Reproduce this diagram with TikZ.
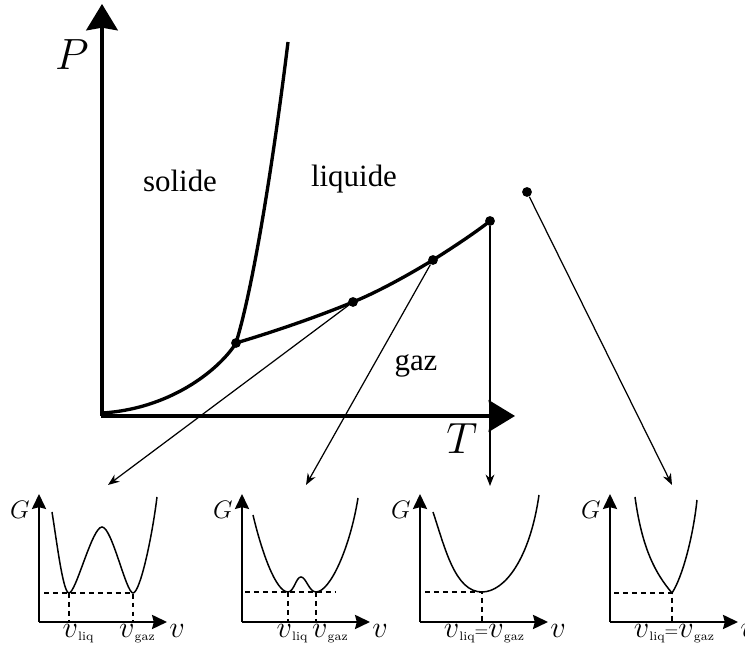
\documentclass[tikz,border=0pt]{standalone}
\usepackage{fontspec}
\newfontfamily\phasefont{Liberation Serif}
\usetikzlibrary{arrows.meta}
\newcommand{\vsub}[1]{$v$\raisebox{-1.5pt}{\fontsize{7}{8}\selectfont #1}}
\newcommand{\veq}{\raisebox{0.6pt}{\fontsize{10}{10}\selectfont$=$}}

\begin{document}
\begin{tikzpicture}[x=0.2mm, y=0.2mm,
  axis/.style={line width=1.8pt, -{Stealth[length=15pt, width=18pt, inset=1.5pt]}},
  phaseline/.style={line width=1.9pt},
  link/.style={line width=0.7pt, -{Stealth[length=6.5pt, width=5pt]}},
  smallaxis/.style={line width=1.3pt, -{Stealth[length=8.5pt, width=8pt, inset=1pt]}},
  gcurve/.style={line width=0.85pt},
  guide/.style={line width=0.7pt, dash pattern=on 2.8pt off 2.3pt},
  dot/.style={circle, fill, inner sep=0pt, minimum size=5.6pt},
  phase/.style={font=\phasefont\fontsize{17.6}{20}\selectfont, inner sep=0pt, anchor=base},
  big/.style={font=\fontsize{28}{30}\selectfont, inner sep=0pt},
  lbl/.style={font=\fontsize{17.6}{18}\selectfont, inner sep=0pt, anchor=base},
  gl/.style={font=\fontsize{13.5}{14}\selectfont, inner sep=0pt}]

  \useasboundingbox (0,0) rectangle (745,648);

  % P-T diagram
  \coordinate (O) at (102,232);
  \draw[axis] (O) -- (102,644);
  \draw[axis] (101,232) -- (515,232);
  \node[big] (P) at (72,593) {$P$};
  \node[big] (T) at (462,209) {$T$};

  \node[dot] (tp) at (236,305) {};
  \node[dot] (A) at (353,346) {};
  \node[dot] (B) at (433,388) {};
  \node[dot] (C) at (490,427) {};
  \node[dot] (D) at (527,456) {};
  \coordinate (s0) at (103,235);
  \coordinate (f1) at (288,606);

  \draw[phaseline] (s0) .. controls (175,240) and (222,282) .. (tp.center);
  \draw[phaseline] (tp.center) .. controls (258,377) and (280,540) .. (f1);
  \draw[phaseline] (tp.center) .. controls (273,316) and (317,331) .. (A.center)
    .. controls (378,356) and (410,374) .. (B.center)
    .. controls (449,398) and (475,415) .. (C.center);

  \node[phase] (sol) at (180,456) {solide};
  \node[phase] (liq) at (354,461) {liquide};
  \node[phase] (gas) at (416,277) {gaz};

  % links to the G(v) plots
  \coordinate (t1) at (108,163);
  \coordinate (t2) at (306,163);
  \coordinate (t3) at (490,162);
  \coordinate (t4) at (672,163);
  \draw[link] (A) -- (t1);
  \draw[link] (B) -- (t2);
  \draw[link] (C) -- (t3);
  \draw[link] (D) -- (t4);

  % G(v) axes
  \foreach \x/\n in {39/1, 242/2, 420/3, 610/4} {
    \coordinate (o\n) at (\x,26);
    \draw[smallaxis] (o\n) -- ++(0,128);
    \draw[smallaxis] (o\n) -- ++(128,0);
    \node[gl] (G\n) at (\x-19,138) {$G$};
    \node[lbl] (v\n) at (\x+138,10) {$v$};
  }

  % plot 1
  \draw[gcurve] (52,136) .. controls (57,105) and (63,55) .. (69,55)
    .. controls (76,55) and (92,121) .. (102,121)
    .. controls (112,121) and (126,55) .. (133,55)
    .. controls (140,55) and (152,110) .. (157,151);
  \draw[guide] (44,55) -- (133,55) -- (133,27);
  \draw[guide] (69,55) -- (69,27);
  \node[lbl] (l1) at (78,10) {\vsub{liq}};
  \node[lbl] (g1) at (137,10) {\vsub{gaz}};

  % plot 2
  \draw[gcurve] (253,133) .. controls (262,95) and (276,56) .. (288,56)
    .. controls (294,56) and (296,71) .. (301,71)
    .. controls (306,71) and (309,56) .. (316,56)
    .. controls (330,56) and (350,100) .. (358,150);
  \draw[guide] (245,56) -- (335,56);
  \draw[guide] (288,56) -- (288,27);
  \draw[guide] (316,56) -- (316,27);
  \node[lbl] (l2) at (292,10) {\vsub{liq}};
  \node[lbl] (g2) at (330,10) {\vsub{gaz}};

  % plot 3
  \draw[gcurve] (433,136) .. controls (445,100) and (455,56) .. (482,56)
    .. controls (505,56) and (530,90) .. (539,153);
  \draw[guide] (425,56) -- (482,56) -- (482,27);
  \node[lbl] (e3) at (484,10) {\vsub{liq}\veq\vsub{gaz}};

  % plot 4
  \draw[gcurve] (635,151) .. controls (642,100) and (655,75) .. (672,55)
    .. controls (682,70) and (693,110) .. (697,148);
  \draw[guide] (614,55) -- (672,55) -- (672,27);
  \node[lbl] (e4) at (674,10) {\vsub{liq}\veq\vsub{gaz}};

\end{tikzpicture}
\end{document}
